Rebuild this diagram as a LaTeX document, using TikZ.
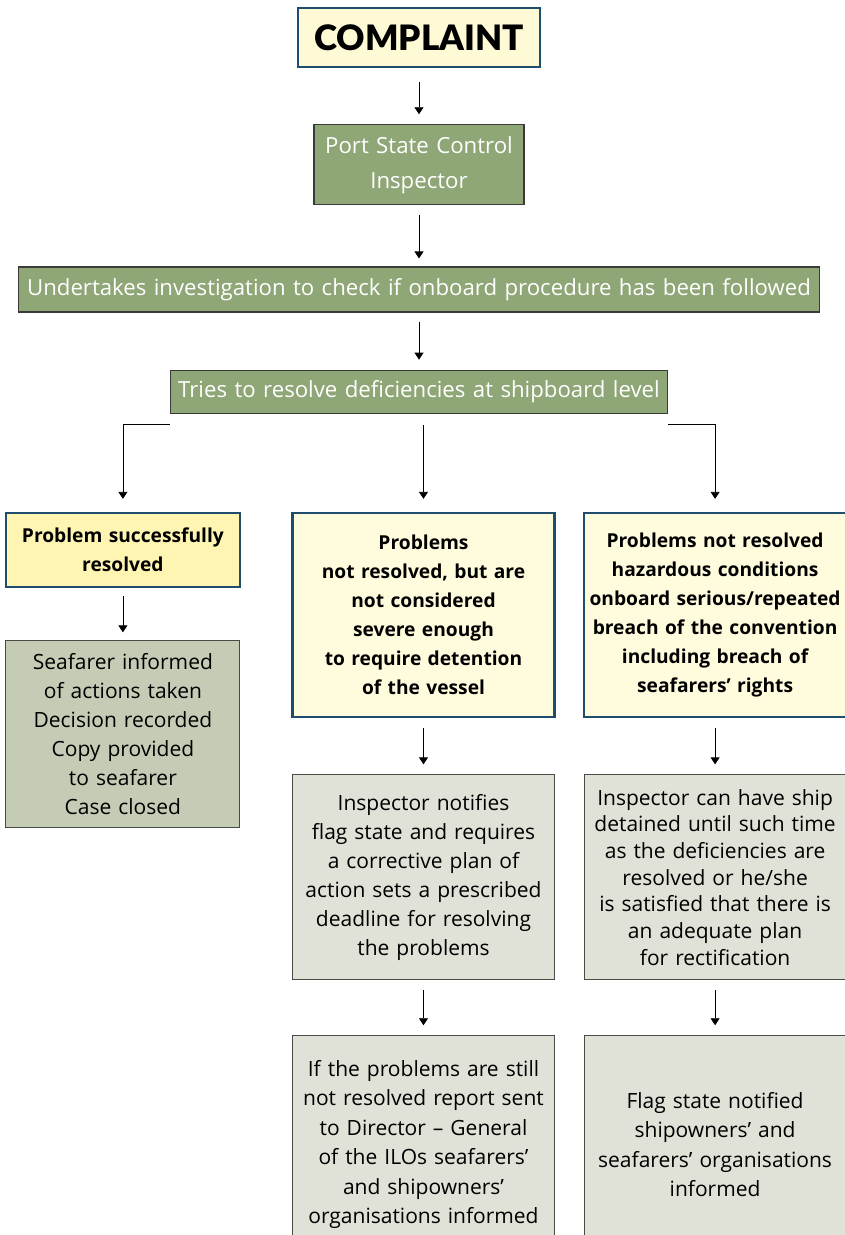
\documentclass[tikz,border=0pt]{standalone}
\usepackage{fontspec}
\setmainfont{Open Sans}
\newfontfamily\blackfont{Lato Black}
\usepackage{xcolor}
\usepackage{tikz}
\usetikzlibrary{positioning,arrows.meta}
\definecolor{PscNavy}{HTML}{1E4D6E}
\definecolor{PscCream}{HTML}{FFFAD6}
\definecolor{PscLemon}{HTML}{FFF5B3}
\definecolor{PscPale}{HTML}{FFFBDD}
\definecolor{PscOlive}{HTML}{8FA676}
\definecolor{PscSage}{HTML}{C5CCB5}
\definecolor{PscMist}{HTML}{E0E2D8}
\definecolor{PscDark}{HTML}{3A3A36}
\definecolor{PscGrey}{HTML}{4A4A46}

\begin{document}
\begin{tikzpicture}[x=1pt,y=1pt,
  node distance=56pt,
  base/.style={align=center,inner xsep=2pt,inner ysep=0pt},
  head/.style={base,draw=PscNavy,line width=2.5pt,fill=PscCream,
    minimum width=242pt,minimum height=59pt,
    font=\blackfont\fontsize{35}{40}\selectfont},
  stage/.style={base,draw=PscDark,line width=1.2pt,fill=PscOlive,text=white,
    font=\fontsize{22.2}{35}\selectfont},
  verdict/.style={base,draw=PscNavy,line width=2.5pt,fill=PscPale,
    text width=258pt,minimum height=204pt,
    font=\bfseries\fontsize{19.2}{29}\selectfont},
  action/.style={base,draw=PscGrey,line width=.9pt,fill=PscMist,
    text width=258pt,font=\fontsize{21}{29}\selectfont},
  arrow/.style={draw=black,line width=.8pt,-{Triangle[width=9pt,length=7pt]},
    shorten <=10pt,shorten >=10pt}
]
\useasboundingbox (0,0) rectangle (844,-1235);
\node[head] (complaint) at (419,-37.5) {COMPLAINT};
\node[stage,text width=206pt,minimum height=80pt,below=56pt of complaint] (psc)
  {Port State Control\\Inspector};
\node[stage,text width=797pt,minimum height=45pt,below=61pt of psc] (inv)
  {Undertakes investigation to check if onboard procedure has been followed};
\node[stage,text width=493pt,minimum height=43pt,below=57pt of inv] (tries)
  {Tries to resolve deficiencies at shipboard level};
% three outcomes
\node[verdict,fill=PscLemon,text width=230pt,minimum height=74pt,
  below=98pt of tries.south west,xshift=-47pt] (ok)
  {Problem successfully\\resolved};
\node[verdict,below=98pt of tries.south,xshift=4.5pt] (minor)
  {Problems\\not resolved, but are\\not considered\\severe enough\\to require detention\\of the vessel};
\node[verdict,below=98pt of tries.south east,xshift=47pt] (serious)
  {Problems not resolved\\hazardous conditions\\onboard serious/repeated\\breach of the convention\\including breach of\\seafarers’ rights};
% follow-up actions
\node[action,fill=PscSage,text width=230pt,minimum height=187pt,below=52pt of ok] (closed)
  {Seafarer informed\\of actions taken\\Decision recorded\\Copy provided\\to seafarer\\Case closed};
\node[action,minimum height=205pt,below=56pt of minor] (notify)
  {Inspector notifies\\flag state and requires\\a corrective plan of\\action sets a prescribed\\deadline for resolving\\the problems};
\node[action,minimum height=205pt,below=56pt of serious,
  font=\fontsize{21}{26.7}\selectfont] (detain)
  {Inspector can have ship\\detained until such time\\as the deficiencies are\\resolved or he/she\\is satisfied that there is\\an adequate plan\\for rectification};
\node[action,minimum height=218pt,below=55pt of notify,
  font=\fontsize{21}{29.5}\selectfont] (report)
  {If the problems are still\\not resolved report sent\\to Director – General\\of the ILOs seafarers’\\and shipowners’\\organisations informed};
\node[action,minimum height=218pt,below=55pt of detain,
  font=\fontsize{21}{29.5}\selectfont] (flag)
  {Flag state notified\\shipowners’ and\\seafarers’ organisations\\informed};
\coordinate (tl) at ([yshift=-11pt]tries.south west);
\coordinate (tr) at ([yshift=-11pt]tries.south east);
\draw[arrow,shorten <=14pt] (complaint) -- (psc);
\draw[arrow,shorten >=8pt] (psc) -- (inv);
\draw[arrow,shorten <=9pt] (inv) -- (tries);
\draw[arrow,shorten <=0pt,shorten >=13pt] (tl) -| (ok);
\draw[arrow,shorten <=11pt,shorten >=13pt] (tries.south -| minor.north) -- (minor);
\draw[arrow,shorten <=0pt,shorten >=13pt] (tr) -| (serious);
\draw[arrow,shorten <=8pt,shorten >=8pt] (ok) -- (closed);
\draw[arrow] (minor) -- (notify);
\draw[arrow] (serious) -- (detain);
\draw[arrow] (notify) -- (report);
\draw[arrow] (detain) -- (flag);
\end{tikzpicture}
\end{document}
